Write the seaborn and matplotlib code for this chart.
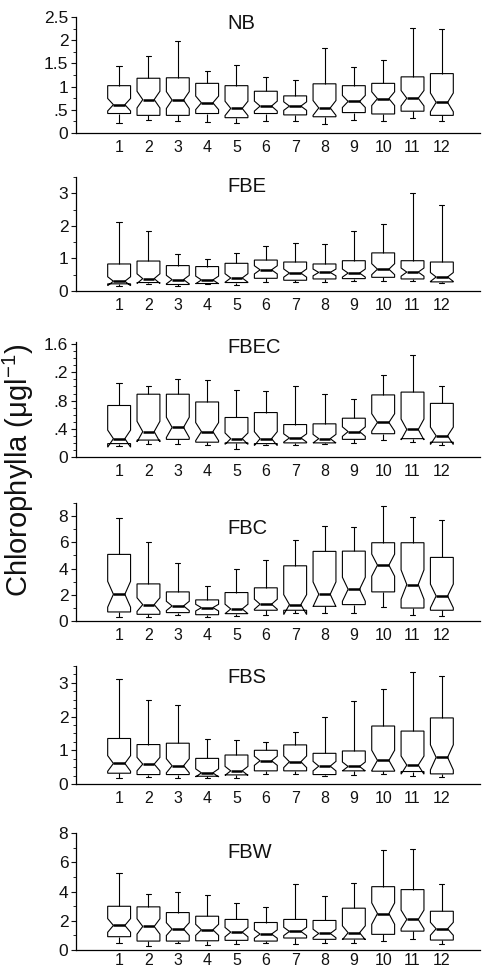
import numpy as np
import pandas as pd
import matplotlib
matplotlib.use("Agg")
import matplotlib.pyplot as plt
from matplotlib.ticker import FixedLocator, FixedFormatter, MultipleLocator
import seaborn as sns

months = list(range(1, 13))

# five-number summaries: whisker low, q1, median, q3, whisker high
nb_low = [0.22, 0.29, 0.26, 0.23, 0.22, 0.26, 0.26, 0.20, 0.29, 0.26, 0.32, 0.26]
nb_q1 = [0.42, 0.38, 0.38, 0.42, 0.33, 0.42, 0.39, 0.35, 0.44, 0.41, 0.47, 0.38]
nb_med = [0.61, 0.72, 0.71, 0.65, 0.53, 0.58, 0.58, 0.54, 0.68, 0.74, 0.75, 0.66]
nb_q3 = [1.02, 1.18, 1.19, 1.07, 1.02, 0.90, 0.80, 1.06, 1.02, 1.07, 1.21, 1.28]
nb_high = [1.44, 1.66, 1.99, 1.33, 1.47, 1.20, 1.15, 1.83, 1.42, 1.57, 2.27, 2.25]

fbe_low = [0.15, 0.20, 0.15, 0.20, 0.17, 0.27, 0.27, 0.27, 0.30, 0.30, 0.32, 0.25]
fbe_q1 = [0.22, 0.26, 0.20, 0.23, 0.26, 0.39, 0.33, 0.37, 0.38, 0.42, 0.37, 0.28]
fbe_med = [0.30, 0.38, 0.35, 0.34, 0.40, 0.65, 0.55, 0.57, 0.55, 0.67, 0.58, 0.43]
fbe_q3 = [0.83, 0.92, 0.78, 0.75, 0.85, 0.95, 0.89, 0.83, 0.93, 1.17, 0.93, 0.89]
fbe_high = [2.11, 1.83, 1.14, 0.99, 1.16, 1.39, 1.48, 1.43, 1.84, 2.07, 3.00, 2.63]

fbec_low = [0.15, 0.18, 0.18, 0.17, 0.12, 0.17, 0.17, 0.18, 0.20, 0.24, 0.21, 0.17]
fbec_q1 = [0.19, 0.24, 0.25, 0.21, 0.20, 0.19, 0.20, 0.20, 0.25, 0.33, 0.26, 0.21]
fbec_med = [0.26, 0.36, 0.42, 0.36, 0.26, 0.26, 0.27, 0.26, 0.36, 0.49, 0.39, 0.30]
fbec_q3 = [0.73, 0.89, 0.89, 0.78, 0.56, 0.63, 0.46, 0.47, 0.55, 0.88, 0.92, 0.76]
fbec_high = [1.05, 1.00, 1.11, 1.09, 0.95, 0.94, 1.00, 0.89, 0.82, 1.16, 1.44, 1.01]

fbc_low = [0.33, 0.33, 0.46, 0.33, 0.41, 0.48, 0.64, 0.64, 0.64, 1.07, 0.48, 0.41]
fbc_q1 = [0.69, 0.51, 0.64, 0.48, 0.56, 0.82, 0.82, 1.12, 1.25, 2.22, 0.99, 0.82]
fbc_med = [2.04, 1.25, 1.15, 1.02, 0.92, 1.28, 1.25, 2.04, 2.42, 4.26, 2.78, 1.91]
fbc_q3 = [5.08, 2.83, 2.22, 1.61, 2.17, 2.53, 4.21, 5.31, 5.33, 5.97, 5.97, 4.85]
fbc_high = [7.83, 6.00, 4.39, 2.70, 3.98, 4.67, 6.15, 7.27, 7.19, 8.80, 7.91, 7.73]

fbs_low = [0.19, 0.22, 0.19, 0.18, 0.19, 0.29, 0.29, 0.24, 0.27, 0.29, 0.25, 0.22]
fbs_q1 = [0.32, 0.28, 0.28, 0.23, 0.27, 0.39, 0.39, 0.28, 0.39, 0.38, 0.37, 0.30]
fbs_med = [0.61, 0.59, 0.54, 0.33, 0.39, 0.69, 0.66, 0.53, 0.52, 0.70, 0.56, 0.79]
fbs_q3 = [1.35, 1.17, 1.21, 0.76, 0.86, 1.00, 1.16, 0.91, 0.98, 1.72, 1.57, 1.96]
fbs_high = [3.11, 2.50, 2.35, 1.33, 1.30, 1.24, 1.53, 1.99, 2.46, 2.83, 3.31, 3.21]

fbw_low = [0.50, 0.29, 0.50, 0.32, 0.39, 0.50, 0.41, 0.48, 0.48, 0.59, 0.73, 0.41]
fbw_q1 = [0.91, 0.61, 0.61, 0.63, 0.66, 0.61, 0.82, 0.73, 0.75, 1.07, 1.29, 0.68]
fbw_med = [1.68, 1.61, 1.43, 1.38, 1.22, 1.09, 1.27, 1.13, 1.18, 2.49, 2.09, 1.45]
fbw_q3 = [2.99, 2.95, 2.56, 2.31, 2.09, 1.88, 2.09, 2.02, 2.86, 4.33, 4.13, 2.65]
fbw_high = [5.26, 3.85, 3.99, 3.79, 3.20, 2.97, 4.49, 3.72, 4.58, 6.87, 6.89, 4.54]

sites = ["NB", "FBE", "FBEC", "FBC", "FBS", "FBW"]
summaries = {
    "NB": (nb_low, nb_q1, nb_med, nb_q3, nb_high),
    "FBE": (fbe_low, fbe_q1, fbe_med, fbe_q3, fbe_high),
    "FBEC": (fbec_low, fbec_q1, fbec_med, fbec_q3, fbec_high),
    "FBC": (fbc_low, fbc_q1, fbc_med, fbc_q3, fbc_high),
    "FBS": (fbs_low, fbs_q1, fbs_med, fbs_q3, fbs_high),
    "FBW": (fbw_low, fbw_q1, fbw_med, fbw_q3, fbw_high),
}

ymax = {"NB": 2.5, "FBE": 3.5, "FBEC": 1.63, "FBC": 9.0, "FBS": 3.5, "FBW": 8.0}
yticks = {
    "NB": [0, 0.5, 1, 1.5, 2, 2.5],
    "FBE": [0, 1, 2, 3],
    "FBEC": [0, 0.4, 0.8, 1.2, 1.6],
    "FBC": [0, 2, 4, 6, 8],
    "FBS": [0, 1, 2, 3],
    "FBW": [0, 2, 4, 6, 8],
}
ylabels = {
    "NB": ["0", ".5", "1", "1.5", "2", "2.5"],
    "FBE": ["0", "1", "2", "3"],
    "FBEC": ["0", ".4", ".8", ".2", "1.6"],
    "FBC": ["0", "2", "4", "6", "8"],
    "FBS": ["0", "1", "2", "3"],
    "FBW": ["0", "2", "4", "6", "8"],
}
yminor = {"NB": 0.25, "FBE": 0.5, "FBEC": 0.1, "FBC": 1, "FBS": 0.25, "FBW": 1}

# axes boxes in pixels (top, bottom) and title position in axes fraction
ax_px = {"NB": (17, 133), "FBE": (177, 291), "FBEC": (342, 457),
         "FBC": (503, 621), "FBS": (666, 784), "FBW": (833, 950)}
title_y = {"NB": 0.948, "FBE": 0.92, "FBEC": 0.95, "FBC": 0.78, "FBS": 0.9, "FBW": 0.83}

k = 12  # samples per quartile block -> n = 4k+1


def make_frame(low, q1, med, q3, high):
    rows = []
    for i, m in enumerate(months):
        vals = [low[i]] + [q1[i]] * k + [med[i]] * k + [q3[i]] * k + [high[i]] * k
        rows += [(m, v) for v in vals]
    return pd.DataFrame(rows, columns=["month", "chl"])


sns.set_style("ticks")
plt.rcParams["font.family"] = ["Liberation Sans", "DejaVu Sans"]
plt.rcParams["mathtext.fontset"] = "custom"
plt.rcParams["mathtext.rm"] = "Liberation Sans"
plt.rcParams["mathtext.it"] = "Liberation Sans"

W, H = 485, 971
fig = plt.figure(figsize=(W / 100, H / 100), dpi=100)
left, right = 76, 480

for site in sites:
    top, bot = ax_px[site]
    ax = fig.add_axes([left / W, 1 - bot / H, (right - left) / W, (bot - top) / H])
    df = make_frame(*summaries[site])
    sns.boxplot(data=df, x="month", y="chl", ax=ax, notch=True, whis=(0, 100),
                width=0.78, color="white", linecolor="black", linewidth=0.8,
                capwidths=0.18, showfliers=False,
                medianprops=dict(linewidth=1.8, color="black"))
    ax.set_xlim(-1.47, 12.3)
    ax.set_ylim(0, ymax[site])
    ax.yaxis.set_major_locator(FixedLocator(yticks[site]))
    ax.yaxis.set_major_formatter(FixedFormatter(ylabels[site]))
    ax.yaxis.set_minor_locator(MultipleLocator(yminor[site]))
    xpad = 2 if site == "FBW" else 5
    ax.tick_params(axis="x", length=0, pad=xpad, labelsize=11.5, colors="#111111")
    ax.tick_params(axis="y", which="major", length=3.5, width=0.8, pad=2,
                   labelsize=12.5, colors="#111111")
    ax.tick_params(axis="y", which="minor", length=2, width=0.7)
    ax.set_xlabel("")
    ax.set_ylabel("")
    for s in ["left", "bottom"]:
        ax.spines[s].set_linewidth(0.9)
        ax.spines[s].set_color("black")
    sns.despine(ax=ax)
    ax.text(0.374, title_y[site], site, transform=ax.transAxes, ha="left",
            va="center", fontsize=14.5, color="#111111")

fig.text(0.037, 1 - 470 / H, "Chlorophylla (μgl$^{-1}$)", rotation=90,
         ha="center", va="center", fontsize=21, color="#111111")

fig.savefig("out.png", dpi=100)
